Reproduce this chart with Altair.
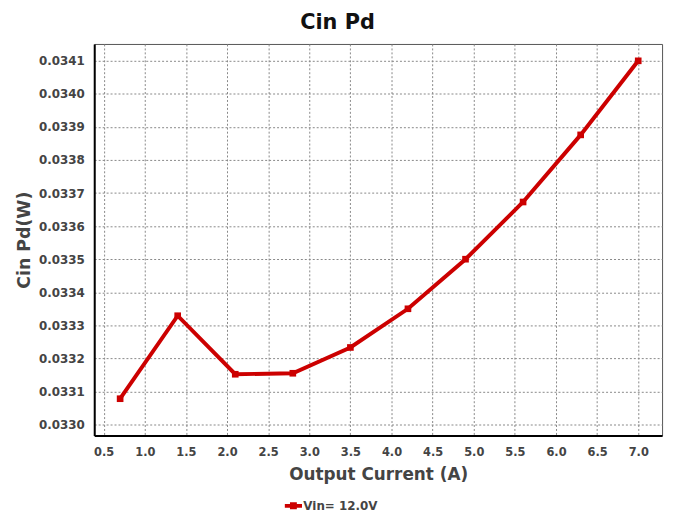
import altair as alt
import pandas as pd

current = [0.7, 1.4, 2.1, 2.8, 3.5, 4.2, 4.9, 5.6, 6.3, 7.0]
cin_pd = [0.033078, 0.033329, 0.033152, 0.033155, 0.033233, 0.033350, 0.033500, 0.033673, 0.033876, 0.034100]
series_name = "Vin= 12.0V"
x_ticks = [0.5, 1.0, 1.5, 2.0, 2.5, 3.0, 3.5, 4.0, 4.5, 5.0, 5.5, 6.0, 6.5, 7.0]
y_ticks = [0.0330, 0.0331, 0.0332, 0.0333, 0.0334, 0.0335, 0.0336, 0.0337, 0.0338, 0.0339, 0.0340, 0.0341]

df = pd.DataFrame({"current": current, "pd": cin_pd, "series": [series_name] * len(current)})

FONT = "DejaVu Sans"
RED = "#CC0000"
TXT = "#444444"

legend_path = "M-1,-0.22H1V0.22H-1Z M-0.4,-0.4H0.4V0.4H-0.4Z"

base = alt.Chart(df).encode(
    x=alt.X(
        "current:Q",
        scale=alt.Scale(domain=[0.385, 7.29], nice=False, zero=False),
        axis=alt.Axis(
            title="Output Current (A)",
            values=x_ticks,
            format=".1f",
            labelFont=FONT, labelFontSize=11.5, labelFontWeight="bold", labelColor=TXT,
            labelPadding=11,
            titleFont=FONT, titleFontSize=17, titleFontWeight="bold", titleColor=TXT,
            titlePadding=9,
            ticks=False,
            domainColor="#000000", domainWidth=2,
            grid=True, gridColor="#888888", gridDash=[2, 2], gridWidth=1,
        ),
    ),
    y=alt.Y(
        "pd:Q",
        scale=alt.Scale(domain=[0.032967, 0.034151], nice=False, zero=False),
        axis=alt.Axis(
            title="Cin Pd(W)",
            values=y_ticks,
            format=".4f",
            labelFont=FONT, labelFontSize=12, labelFontWeight="bold", labelColor=TXT,
            labelPadding=10,
            titleFont=FONT, titleFontSize=17.5, titleFontWeight="bold", titleColor=TXT,
            titlePadding=5,
            ticks=False,
            domainColor="#000000", domainWidth=2,
            grid=True, gridColor="#888888", gridDash=[2, 2], gridWidth=1,
        ),
    ),
    color=alt.Color(
        "series:N",
        scale=alt.Scale(domain=[series_name], range=[RED]),
        legend=alt.Legend(
            title=None,
            orient="none",
            legendX=192,
            legendY=457,
            symbolType=legend_path,
            symbolSize=300,
            symbolStrokeWidth=0,
            symbolFillColor=RED,
            labelFont=FONT, labelFontSize=12, labelFontWeight="bold", labelColor=TXT,
            labelOffset=1,
        ),
    ),
)

line = base.mark_line(strokeWidth=4)
pts = base.mark_square(size=45, opacity=1, filled=True)

chart = (line + pts).properties(
    width=573,
    height=395,
    title=alt.TitleParams(
        "Cin Pd", font=FONT, fontSize=21, fontWeight="bold", color="#111111",
        anchor="middle", offset=11, dx=-41,
    ),
    autosize=alt.AutoSizeParams(type="none"),
    padding={"left": 87, "top": 34, "right": 8, "bottom": 76},
).configure_view(stroke="#555555", strokeWidth=1)

chart.save("out.html", embed_options={"renderer": "svg", "actions": False})
